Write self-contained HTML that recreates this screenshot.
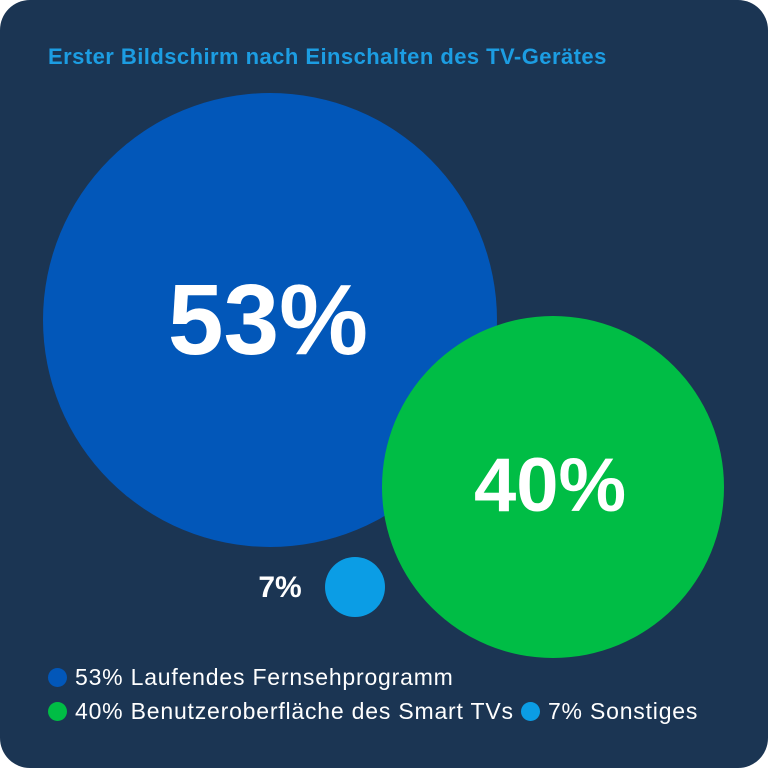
<!DOCTYPE html>
<html><head><style>
html,body{margin:0;padding:0;background:#fff;}
.c{position:relative;width:768px;height:768px;background:#1b3553;border-radius:30px;overflow:hidden;font-family:"Liberation Sans",sans-serif;}
.t{position:absolute;left:48px;top:44px;color:#1c9de2;font-weight:bold;font-size:22px;letter-spacing:0.45px;}
.circ{position:absolute;border-radius:50%;}
.lbl{position:absolute;color:#fff;font-weight:bold;text-align:center;}
.lg{position:absolute;color:#fff;font-size:23px;letter-spacing:0.8px;white-space:nowrap;}
.d{display:inline-block;width:19px;height:19px;border-radius:50%;vertical-align:-2px;margin-right:8px;}
</style></head><body>
<div class="c">
<div class="t">Erster Bildschirm nach Einschalten des TV-Gerätes</div>
<div class="circ" style="left:43px;top:93px;width:454px;height:454px;background:#0257b9;"></div>
<div class="circ" style="left:382px;top:316px;width:342px;height:342px;background:#00bd45;"></div>
<div class="circ" style="left:325px;top:557px;width:60px;height:60px;background:#0b9de5;"></div>
<div class="lbl" style="left:118px;top:263px;width:300px;font-size:100px;line-height:114px;">53%</div>
<div class="lbl" style="left:400px;top:442px;width:300px;font-size:76px;line-height:88px;">40%</div>
<div class="lbl" style="left:240px;top:568px;width:80px;font-size:30px;line-height:40px;">7%</div>
<div class="lg" style="left:48px;top:664px;"><span class="d" style="background:#0257b9"></span>53% Laufendes Fernsehprogramm</div>
<div class="lg" style="left:48px;top:698px;"><span class="d" style="background:#00bd45"></span>40% Benutzeroberfläche des Smart TVs <span class="d" style="background:#0b9de5;margin-left:0px"></span>7% Sonstiges</div>
</div>
</body></html>
